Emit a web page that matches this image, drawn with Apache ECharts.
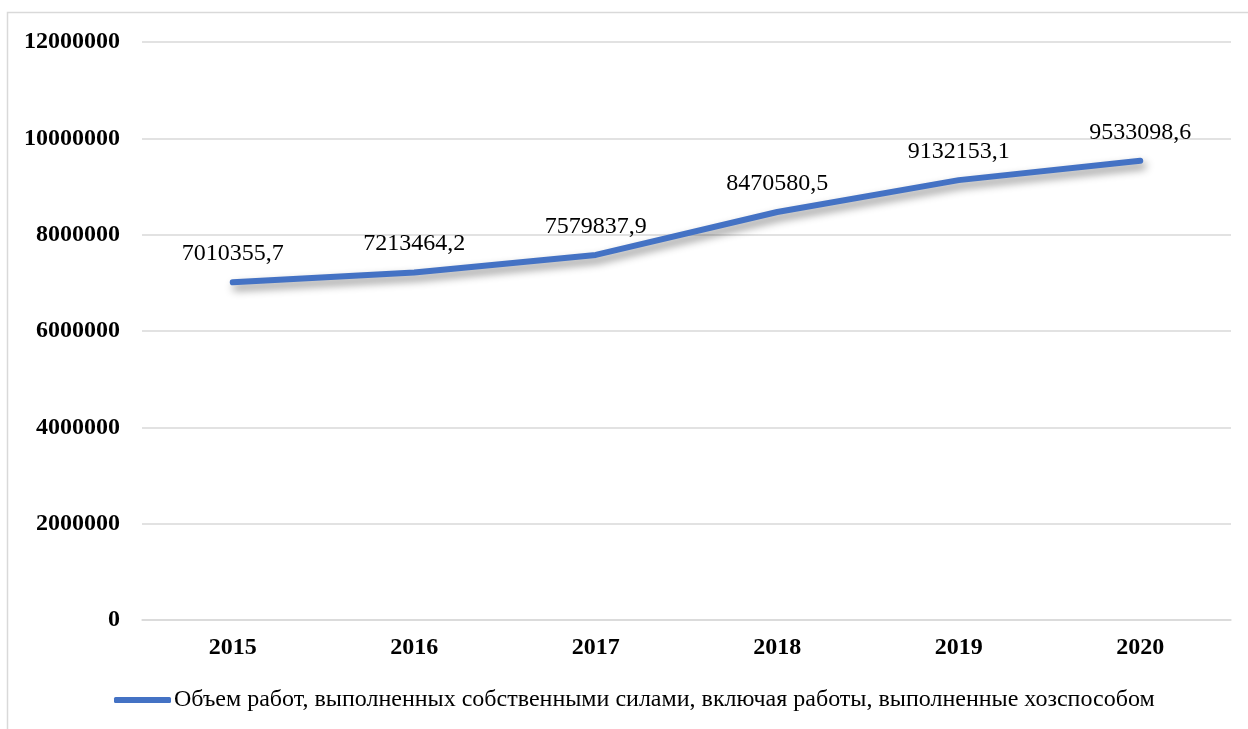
<!DOCTYPE html>
<html>
<head>
<meta charset="utf-8">
<script src="https://cdn.jsdelivr.net/npm/echarts@6/dist/echarts.min.js"></script>
<style>
  html, body { margin: 0; padding: 0; background: #fff; }
  #chart { width: 1248px; height: 729px; }
</style>
</head>
<body>
<div id="chart"></div>
<script>
// Years on the category axis
const years = ['2015', '2016', '2017', '2018', '2019', '2020'];
// Volume of work performed by own forces
const volumes = [7010355.7, 7213464.2, 7579837.9, 8470580.5, 9132153.1, 9533098.6];
const seriesName = 'Объем работ, выполненных собственными силами, включая работы, выполненные хозспособом';

const blue = '#4472C4';
const serif = '"Liberation Serif", "Times New Roman", serif';

const chart = echarts.init(document.getElementById('chart'));
chart.setOption({
  animation: false,
  backgroundColor: '#fff',
  graphic: [{
    type: 'rect',
    shape: { x: 7.5, y: 12.5, width: 1400, height: 900 },
    style: { fill: 'none', stroke: '#d9d9d9', lineWidth: 1.5 },
    silent: true
  }],
  grid: { left: 142, right: 17, top: 42, bottom: 109, containLabel: false },
  xAxis: {
    type: 'category',
    data: years,
    boundaryGap: true,
    axisLine: { show: true, lineStyle: { color: '#d9d9d9', width: 1.5 } },
    axisTick: { show: false },
    axisLabel: {
      margin: 16,
      fontFamily: serif, fontWeight: 'bold', fontSize: 24, color: '#000'
    },
    splitLine: { show: false }
  },
  yAxis: {
    type: 'value',
    min: 0, max: 12000000, interval: 2000000,
    axisLine: { show: false },
    axisTick: { show: false },
    axisLabel: {
      margin: 22,
      fontFamily: serif, fontWeight: 'bold', fontSize: 24, color: '#000',
      formatter: v => String(v)
    },
    splitLine: { lineStyle: { color: '#d9d9d9', width: 1.5 } }
  },
  legend: {
    left: 114, top: 688,
    padding: 0,
    itemWidth: 57, itemHeight: 6,
    icon: 'roundRect',
    textStyle: { fontFamily: serif, fontSize: 24, color: '#000', padding: [0, 0, 0, -2] },
    data: [{ name: seriesName, itemStyle: { color: blue } }]
  },
  series: [{
    name: seriesName,
    type: 'line',
    data: volumes,
    symbol: 'circle',
    symbolSize: 1,
    showSymbol: true,
    itemStyle: { color: blue },
    lineStyle: {
      color: blue, width: 6, cap: 'round', join: 'round',
      shadowColor: 'rgba(0,0,0,0.45)', shadowBlur: 8, shadowOffsetX: 3, shadowOffsetY: 5
    },
    label: {
      show: true, position: 'top', distance: 16,
      fontFamily: serif, fontSize: 24, color: '#000',
      formatter: p => String(p.value).replace('.', ',')
    }
  }]
});
</script>
</body>
</html>
